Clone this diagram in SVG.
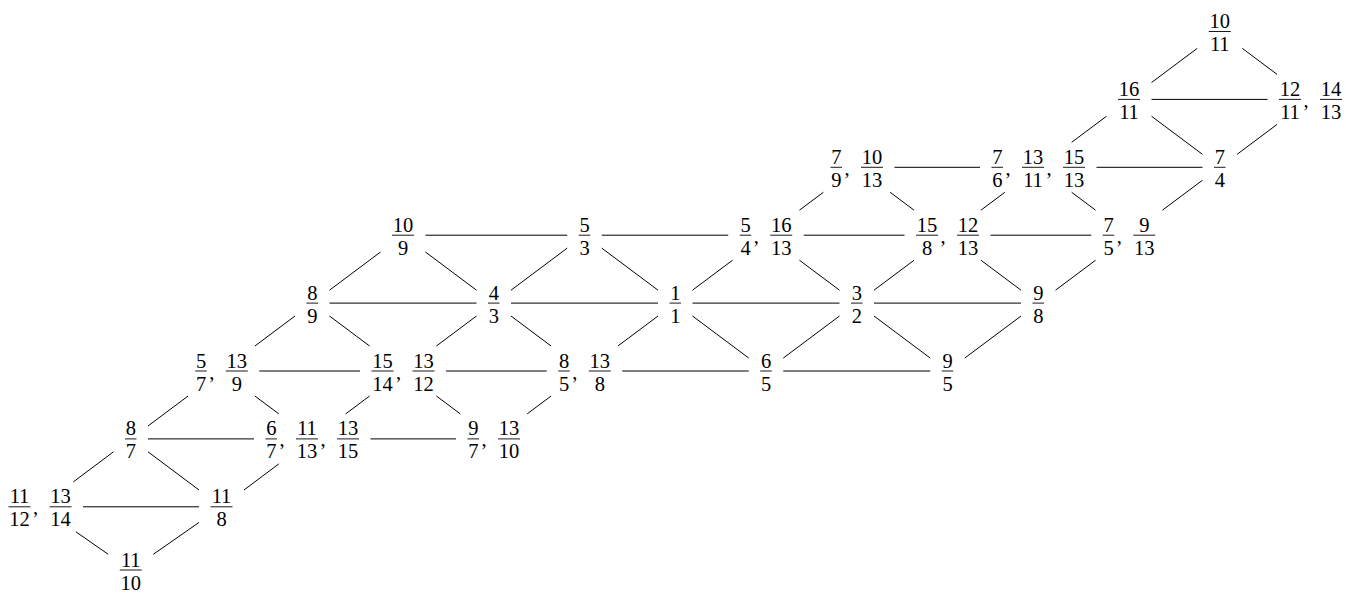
<svg xmlns="http://www.w3.org/2000/svg" width="1346" height="594" viewBox="0 0 1346 594">
<style>
text{font-family:"Liberation Serif","DejaVu Serif",serif;font-size:20.5px;fill:#000;text-anchor:middle}
text.c{text-anchor:start}
line{stroke:#000;fill:none}
.bar{stroke-width:0.9}
#edges line{stroke-width:1}
</style>
<rect width="1346" height="594" fill="#fff"/>
<g id="edges">
<line x1="1197.25" y1="48.33" x2="1151.5" y2="82.57"/>
<line x1="1242.25" y1="48.33" x2="1277.09" y2="74.4"/>
<line x1="1151.5" y1="99.4" x2="1267.5" y2="99.4"/>
<line x1="1106.5" y1="116.23" x2="1071.66" y2="142.3"/>
<line x1="1151.5" y1="116.23" x2="1202.5" y2="154.39"/>
<line x1="1277.09" y1="124.4" x2="1237" y2="154.39"/>
<line x1="894.5" y1="167.3" x2="980" y2="167.3"/>
<line x1="1096.5" y1="167.3" x2="1202.5" y2="167.3"/>
<line x1="823.34" y1="192.3" x2="799.41" y2="210.2"/>
<line x1="890.16" y1="192.3" x2="914.09" y2="210.2"/>
<line x1="1004.84" y1="192.3" x2="980.91" y2="210.2"/>
<line x1="1071.66" y1="192.3" x2="1095.59" y2="210.2"/>
<line x1="1202.5" y1="180.21" x2="1162.41" y2="210.2"/>
<line x1="425.5" y1="235.2" x2="567.25" y2="235.2"/>
<line x1="601.75" y1="235.2" x2="728.25" y2="235.2"/>
<line x1="803.75" y1="235.2" x2="904.5" y2="235.2"/>
<line x1="990.5" y1="235.2" x2="1091.25" y2="235.2"/>
<line x1="380.5" y1="252.03" x2="329.5" y2="290.19"/>
<line x1="425.5" y1="252.03" x2="476.5" y2="290.19"/>
<line x1="567.25" y1="248.11" x2="511" y2="290.19"/>
<line x1="601.75" y1="248.11" x2="658" y2="290.19"/>
<line x1="732.59" y1="260.2" x2="692.5" y2="290.19"/>
<line x1="799.41" y1="260.2" x2="839.5" y2="290.19"/>
<line x1="914.09" y1="260.2" x2="874" y2="290.19"/>
<line x1="980.91" y1="260.2" x2="1021" y2="290.19"/>
<line x1="1095.59" y1="260.2" x2="1055.5" y2="290.19"/>
<line x1="329.5" y1="303.1" x2="476.5" y2="303.1"/>
<line x1="511" y1="303.1" x2="658" y2="303.1"/>
<line x1="692.5" y1="303.1" x2="839.5" y2="303.1"/>
<line x1="874" y1="303.1" x2="1021" y2="303.1"/>
<line x1="295" y1="316.01" x2="254.91" y2="346"/>
<line x1="329.5" y1="316.01" x2="369.59" y2="346"/>
<line x1="476.5" y1="316.01" x2="436.41" y2="346"/>
<line x1="511" y1="316.01" x2="551.09" y2="346"/>
<line x1="658" y1="316.01" x2="617.91" y2="346"/>
<line x1="692.5" y1="316.01" x2="748.75" y2="358.09"/>
<line x1="839.5" y1="316.01" x2="783.25" y2="358.09"/>
<line x1="874" y1="316.01" x2="930.25" y2="358.09"/>
<line x1="1021" y1="316.01" x2="964.75" y2="358.09"/>
<line x1="259.25" y1="371" x2="360" y2="371"/>
<line x1="446" y1="371" x2="546.75" y2="371"/>
<line x1="622.25" y1="371" x2="748.75" y2="371"/>
<line x1="783.25" y1="371" x2="930.25" y2="371"/>
<line x1="188.09" y1="396" x2="148" y2="425.99"/>
<line x1="254.91" y1="396" x2="278.84" y2="413.9"/>
<line x1="369.59" y1="396" x2="345.66" y2="413.9"/>
<line x1="436.41" y1="396" x2="460.34" y2="413.9"/>
<line x1="551.09" y1="396" x2="527.16" y2="413.9"/>
<line x1="148" y1="438.9" x2="254" y2="438.9"/>
<line x1="370.5" y1="438.9" x2="456" y2="438.9"/>
<line x1="113.5" y1="451.81" x2="73.41" y2="481.8"/>
<line x1="148" y1="451.81" x2="199" y2="489.97"/>
<line x1="278.84" y1="463.9" x2="244" y2="489.97"/>
<line x1="83" y1="506.8" x2="199" y2="506.8"/>
<line x1="75.9" y1="531.8" x2="108.25" y2="554.33"/>
<line x1="199" y1="522.47" x2="153.25" y2="554.33"/>
</g>

<g id="n-10-11" transform="translate(1219.75,31.5)"><text x="0" y="-3.5">10</text><text x="0" y="19.5">11</text><line class="bar" x1="-11" y1="0" x2="11" y2="0"/></g>

<g id="n-16-11" transform="translate(1129,99.4)"><text x="0" y="-3.5">16</text><text x="0" y="19.5">11</text><line class="bar" x1="-11" y1="0" x2="11" y2="0"/></g>
<g id="n-12-11" transform="translate(1310.5,99.4)"><text x="-20.5" y="-3.5">12</text><text x="-20.5" y="19.5">11</text><line class="bar" x1="-31.5" y1="0" x2="-9.5" y2="0"/><text class="c" x="-6.9" y="7.5">,</text><text x="20.5" y="-3.5">14</text><text x="20.5" y="19.5">13</text><line class="bar" x1="9.5" y1="0" x2="31.5" y2="0"/></g>

<g id="n-7-9" transform="translate(856.75,167.3)"><text x="-20.5" y="-3.5">7</text><text x="-20.5" y="19.5">9</text><line class="bar" x1="-26.25" y1="0" x2="-14.75" y2="0"/><text class="c" x="-12.15" y="7.5">,</text><text x="15.25" y="-3.5">10</text><text x="15.25" y="19.5">13</text><line class="bar" x1="4.25" y1="0" x2="26.25" y2="0"/></g>
<g id="n-7-6" transform="translate(1038.25,167.3)"><text x="-41" y="-3.5">7</text><text x="-41" y="19.5">6</text><line class="bar" x1="-46.75" y1="0" x2="-35.25" y2="0"/><text class="c" x="-32.65" y="7.5">,</text><text x="-5.25" y="-3.5">13</text><text x="-5.25" y="19.5">11</text><line class="bar" x1="-16.25" y1="0" x2="5.75" y2="0"/><text class="c" x="8.35" y="7.5">,</text><text x="35.75" y="-3.5">15</text><text x="35.75" y="19.5">13</text><line class="bar" x1="24.75" y1="0" x2="46.75" y2="0"/></g>
<g id="n-7-4" transform="translate(1219.75,167.3)"><text x="0" y="-3.5">7</text><text x="0" y="19.5">4</text><line class="bar" x1="-5.75" y1="0" x2="5.75" y2="0"/></g>

<g id="n-10-9" transform="translate(403,235.2)"><text x="0" y="-3.5">10</text><text x="0" y="19.5">9</text><line class="bar" x1="-11" y1="0" x2="11" y2="0"/></g>
<g id="n-5-3" transform="translate(584.5,235.2)"><text x="0" y="-3.5">5</text><text x="0" y="19.5">3</text><line class="bar" x1="-5.75" y1="0" x2="5.75" y2="0"/></g>
<g id="n-5-4" transform="translate(766,235.2)"><text x="-20.5" y="-3.5">5</text><text x="-20.5" y="19.5">4</text><line class="bar" x1="-26.25" y1="0" x2="-14.75" y2="0"/><text class="c" x="-12.15" y="7.5">,</text><text x="15.25" y="-3.5">16</text><text x="15.25" y="19.5">13</text><line class="bar" x1="4.25" y1="0" x2="26.25" y2="0"/></g>
<g id="n-15-8" transform="translate(947.5,235.2)"><text x="-20.5" y="-3.5">15</text><text x="-20.5" y="19.5">8</text><line class="bar" x1="-31.5" y1="0" x2="-9.5" y2="0"/><text class="c" x="-6.9" y="7.5">,</text><text x="20.5" y="-3.5">12</text><text x="20.5" y="19.5">13</text><line class="bar" x1="9.5" y1="0" x2="31.5" y2="0"/></g>
<g id="n-7-5" transform="translate(1129,235.2)"><text x="-20.5" y="-3.5">7</text><text x="-20.5" y="19.5">5</text><line class="bar" x1="-26.25" y1="0" x2="-14.75" y2="0"/><text class="c" x="-12.15" y="7.5">,</text><text x="15.25" y="-3.5">9</text><text x="15.25" y="19.5">13</text><line class="bar" x1="4.25" y1="0" x2="26.25" y2="0"/></g>

<g id="n-8-9" transform="translate(312.25,303.1)"><text x="0" y="-3.5">8</text><text x="0" y="19.5">9</text><line class="bar" x1="-5.75" y1="0" x2="5.75" y2="0"/></g>
<g id="n-4-3" transform="translate(493.75,303.1)"><text x="0" y="-3.5">4</text><text x="0" y="19.5">3</text><line class="bar" x1="-5.75" y1="0" x2="5.75" y2="0"/></g>
<g id="n-1-1" transform="translate(675.25,303.1)"><text x="0" y="-3.5">1</text><text x="0" y="19.5">1</text><line class="bar" x1="-5.75" y1="0" x2="5.75" y2="0"/></g>
<g id="n-3-2" transform="translate(856.75,303.1)"><text x="0" y="-3.5">3</text><text x="0" y="19.5">2</text><line class="bar" x1="-5.75" y1="0" x2="5.75" y2="0"/></g>
<g id="n-9-8" transform="translate(1038.25,303.1)"><text x="0" y="-3.5">9</text><text x="0" y="19.5">8</text><line class="bar" x1="-5.75" y1="0" x2="5.75" y2="0"/></g>

<g id="n-5-7" transform="translate(221.5,371)"><text x="-20.5" y="-3.5">5</text><text x="-20.5" y="19.5">7</text><line class="bar" x1="-26.25" y1="0" x2="-14.75" y2="0"/><text class="c" x="-12.15" y="7.5">,</text><text x="15.25" y="-3.5">13</text><text x="15.25" y="19.5">9</text><line class="bar" x1="4.25" y1="0" x2="26.25" y2="0"/></g>
<g id="n-15-14" transform="translate(403,371)"><text x="-20.5" y="-3.5">15</text><text x="-20.5" y="19.5">14</text><line class="bar" x1="-31.5" y1="0" x2="-9.5" y2="0"/><text class="c" x="-6.9" y="7.5">,</text><text x="20.5" y="-3.5">13</text><text x="20.5" y="19.5">12</text><line class="bar" x1="9.5" y1="0" x2="31.5" y2="0"/></g>
<g id="n-8-5" transform="translate(584.5,371)"><text x="-20.5" y="-3.5">8</text><text x="-20.5" y="19.5">5</text><line class="bar" x1="-26.25" y1="0" x2="-14.75" y2="0"/><text class="c" x="-12.15" y="7.5">,</text><text x="15.25" y="-3.5">13</text><text x="15.25" y="19.5">8</text><line class="bar" x1="4.25" y1="0" x2="26.25" y2="0"/></g>
<g id="n-6-5" transform="translate(766,371)"><text x="0" y="-3.5">6</text><text x="0" y="19.5">5</text><line class="bar" x1="-5.75" y1="0" x2="5.75" y2="0"/></g>
<g id="n-9-5" transform="translate(947.5,371)"><text x="0" y="-3.5">9</text><text x="0" y="19.5">5</text><line class="bar" x1="-5.75" y1="0" x2="5.75" y2="0"/></g>

<g id="n-8-7" transform="translate(130.75,438.9)"><text x="0" y="-3.5">8</text><text x="0" y="19.5">7</text><line class="bar" x1="-5.75" y1="0" x2="5.75" y2="0"/></g>
<g id="n-6-7" transform="translate(312.25,438.9)"><text x="-41" y="-3.5">6</text><text x="-41" y="19.5">7</text><line class="bar" x1="-46.75" y1="0" x2="-35.25" y2="0"/><text class="c" x="-32.65" y="7.5">,</text><text x="-5.25" y="-3.5">11</text><text x="-5.25" y="19.5">13</text><line class="bar" x1="-16.25" y1="0" x2="5.75" y2="0"/><text class="c" x="8.35" y="7.5">,</text><text x="35.75" y="-3.5">13</text><text x="35.75" y="19.5">15</text><line class="bar" x1="24.75" y1="0" x2="46.75" y2="0"/></g>
<g id="n-9-7" transform="translate(493.75,438.9)"><text x="-20.5" y="-3.5">9</text><text x="-20.5" y="19.5">7</text><line class="bar" x1="-26.25" y1="0" x2="-14.75" y2="0"/><text class="c" x="-12.15" y="7.5">,</text><text x="15.25" y="-3.5">13</text><text x="15.25" y="19.5">10</text><line class="bar" x1="4.25" y1="0" x2="26.25" y2="0"/></g>

<g id="n-11-12" transform="translate(40,506.8)"><text x="-20.5" y="-3.5">11</text><text x="-20.5" y="19.5">12</text><line class="bar" x1="-31.5" y1="0" x2="-9.5" y2="0"/><text class="c" x="-6.9" y="7.5">,</text><text x="20.5" y="-3.5">13</text><text x="20.5" y="19.5">14</text><line class="bar" x1="9.5" y1="0" x2="31.5" y2="0"/></g>
<g id="n-11-8" transform="translate(221.5,506.8)"><text x="0" y="-3.5">11</text><text x="0" y="19.5">8</text><line class="bar" x1="-11" y1="0" x2="11" y2="0"/></g>

<g id="n-11-10" transform="translate(130.75,570)"><text x="0" y="-3.5">11</text><text x="0" y="19.5">10</text><line class="bar" x1="-11" y1="0" x2="11" y2="0"/></g>
</svg>
